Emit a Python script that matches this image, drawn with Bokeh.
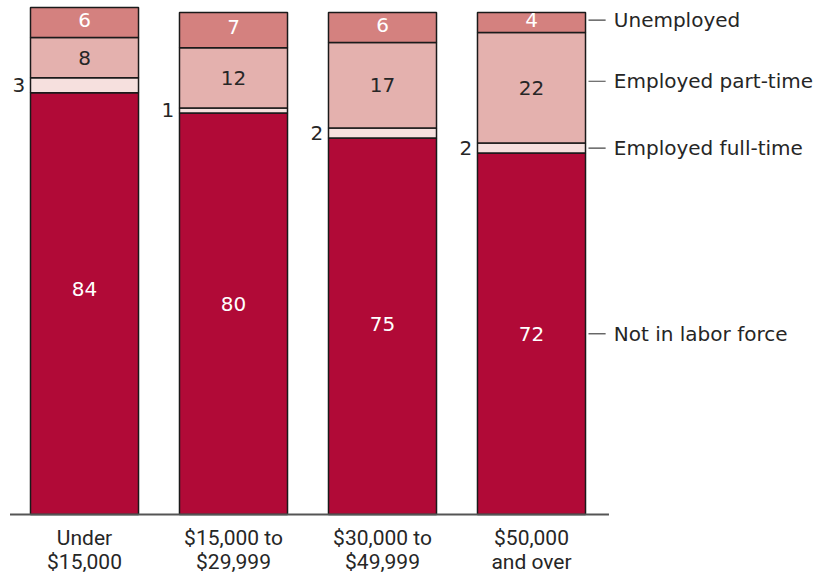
import numpy as np
from bokeh.plotting import figure
from bokeh.models import Range1d
from bokeh.core.properties import value
from bokeh.embed import file_html
from bokeh.resources import INLINE

categories = ["Under\n$15,000", "$15,000 to\n$29,999", "$30,000 to\n$49,999", "$50,000\nand over"]
series = ["Not in labor force", "Employed full-time", "Employed part-time", "Unemployed"]
not_in_labor = [84, 80, 75, 72]
full_time = [3, 1, 2, 2]
part_time = [8, 12, 17, 22]
unemployed = [6, 7, 6, 4]

colors = ["#B10A37", "#F6E0DE", "#E4B1AE", "#D4817F"]
FONT = "DejaVu Sans"
COND = "Roboto"
DARK = "#262626"

p = figure(width=816, height=574, output_backend="svg", toolbar_location=None,
           x_range=Range1d(-0.5638, 4.9128), y_range=Range1d(-11.95, 102.39),
           min_border=0, min_border_left=0, min_border_right=0,
           min_border_top=0, min_border_bottom=0)
p.axis.visible = False
p.grid.visible = False
p.outline_line_color = None

x = np.arange(len(categories))
W = 0.725
vals = [np.array(not_in_labor), np.array(full_time), np.array(part_time), np.array(unemployed)]
bottom = np.zeros(len(categories))
bounds = []
for v, c in zip(vals, colors):
    top = bottom + v
    p.vbar(x=x, width=W, bottom=bottom, top=top, fill_color=c,
           line_color="#1a1a1a", line_width=1.5)
    bounds.append((bottom.copy(), top.copy()))
    bottom = top

# baseline
p.segment(x0=[-0.5], y0=[0], x1=[3.52], y1=[0], line_color="#555555", line_width=2)

FS = "20px"
# value labels
b0, t0 = bounds[0]
p.text(x=x, y=(b0 + t0) / 2 + np.array([3, 2, 0.5, 0]), text=[str(v) for v in not_in_labor],
       text_color="white", text_font=value(FONT), text_font_size=FS,
       text_align="center", text_baseline="middle")
b1, t1 = bounds[1]
p.text(x=x - W / 2 - 0.035, y=(b1 + t1) / 2, text=[str(v) for v in full_time], text_color=DARK,
       text_font=value(FONT), text_font_size=FS, text_align="right", text_baseline="middle")
b2, t2 = bounds[2]
p.text(x=x, y=(b2 + t2) / 2, text=[str(v) for v in part_time], text_color=DARK,
       text_font=value(FONT), text_font_size=FS, text_align="center", text_baseline="middle")
b3, t3 = bounds[3]
p.text(x=x, y=(b3 + t3) / 2 + 0.6, text=[str(v) for v in unemployed], text_color="white",
       text_font=value(FONT), text_font_size=FS, text_align="center", text_baseline="middle")

# series labels at right with leader lines (aligned to last bar)
last = len(categories) - 1
label_y = [(b[last] + t[last]) / 2 for b, t in bounds]
label_y[3] += 0.5
label_y[2] += 1.3
xr = last + W / 2
p.segment(x0=[xr + 0.02] * 4, y0=label_y, x1=[xr + 0.135] * 4, y1=label_y,
          line_color="#444444", line_width=1.2)
p.text(x=[xr + 0.19] * 4, y=label_y, text=series, text_color=DARK,
       text_font=value(FONT), text_font_size=FS, text_align="left", text_baseline="middle")

# category labels
line1 = [c.split("\n")[0] for c in categories]
line2 = [c.split("\n")[1] for c in categories]
p.text(x=x, y=[-4.6] * 4, text=line1, text_color=DARK, text_font=value(COND),
       text_font_size="21px", text_align="center", text_baseline="middle")
p.text(x=x, y=[-9.4] * 4, text=line2, text_color=DARK, text_font=value(COND),
       text_font_size="21px", text_align="center", text_baseline="middle")

open("out.html", "w").write(file_html(p, INLINE))
